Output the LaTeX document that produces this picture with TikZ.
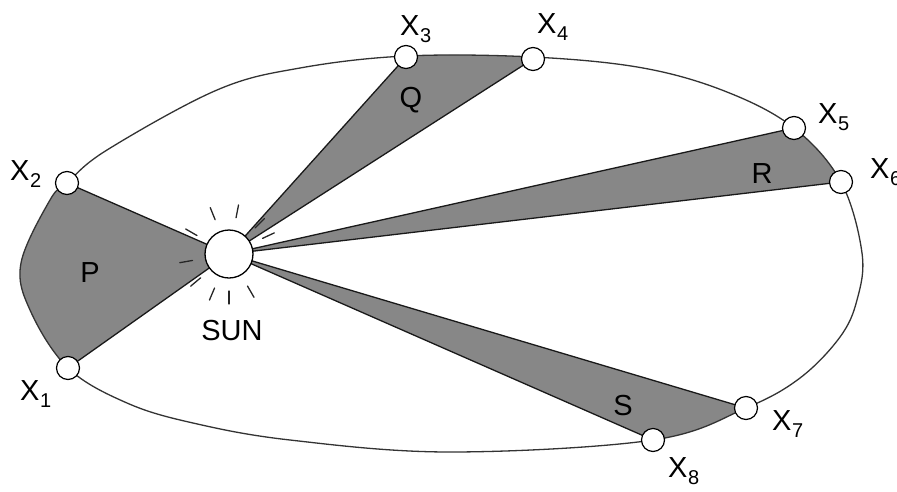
\documentclass[tikz,border=0pt]{standalone}
\usepackage{fontspec}
\setmainfont{Liberation Sans}
\usetikzlibrary{calc}
\newcommand{\xsub}[1]{X\kern0.5pt\raisebox{-7pt}{\fontsize{20}{20}\selectfont #1}}
\begin{document}
\begin{tikzpicture}[x=1pt,y=-1pt,
  orbitline/.style={line width=1.3pt, black!80},
  wedgefill/.style={fill=black!47},
  edgeline/.style={line width=1.3pt, black!90},
  dot/.style={circle, draw, line width=1.2pt, fill=white, minimum size=23pt, inner sep=0pt},
  sunbody/.style={circle, draw, line width=1.3pt, fill=white, minimum size=48pt, inner sep=0pt},
  lbl/.style={font=\fontsize{29}{29}\selectfont, inner sep=0pt},
  ray/.style={line width=1.3pt, black!85, line cap=round}]
\useasboundingbox (0,0) rectangle (897,491);
% positions
\coordinate (sun) at (229,254);
\coordinate (X1) at (68,368);
\coordinate (X2) at (67,183);
\coordinate (X3) at (406,57);
\coordinate (X4) at (533,59);
\coordinate (X5) at (794,128);
\coordinate (X6) at (841,182);
\coordinate (X7) at (746,408);
\coordinate (X8) at (653,440);
% wedges
\begin{scope}
\clip plot[smooth cycle, tension=0.6] coordinates {(21,263) (50,200) (67,183) (107,150) (217,90) (300,68) (406,56) (533,57) (643,68) (727,92) (794,128) (841,182) (862,253) (857,300) (840,337) (800,378) (746,408) (653,440) (450,452) (290,440) (193,423) (127,403) (68,368) (30,310)};
\fill[wedgefill] (sun) -- ($(sun)!2!(X2)$) -- ($(sun)!2!(X1)$) -- cycle;
\fill[wedgefill] (sun) -- ($(sun)!1.5!(X3)$) -- ($(sun)!1.5!(X4)$) -- cycle;
\fill[wedgefill] (sun) -- ($(sun)!1.3!(X5)$) -- ($(sun)!1.3!(X6)$) -- cycle;
\fill[wedgefill] (sun) -- ($(sun)!1.3!(X7)$) -- ($(sun)!1.3!(X8)$) -- cycle;
\end{scope}
% orbit
\draw[orbitline] plot[smooth cycle, tension=0.6] coordinates {(21,263) (50,200) (67,183) (107,150) (217,90) (300,68) (406,56) (533,57) (643,68) (727,92) (794,128) (841,182) (862,253) (857,300) (840,337) (800,378) (746,408) (653,440) (450,452) (290,440) (193,423) (127,403) (68,368) (30,310)};
% wedge edges
\foreach \p in {X1,X2,X3,X4,X5,X6,X7,X8} \draw[edgeline] (sun) -- (\p);
% rays
\foreach \a in {25,45,79,112,150,190,220,247,270,300}
  \draw[ray] ($(sun)+(-\a:37)$) -- ($(sun)+(-\a:50)$);
% sun and planet positions
\node[sunbody] (sunc) at (sun) {};
\foreach \p in {X1,X2,X3,X4,X5,X6,X7,X8} \node[dot] (d\p) at (\p) {};
% labels
\node[lbl, anchor=base west] (t1) at (20,400) {\xsub{1}};
\node[lbl, anchor=base west] (t2) at (10,180) {\xsub{2}};
\node[lbl, anchor=base west] (t3) at (400,35) {\xsub{3}};
\node[lbl, anchor=base west] (t4) at (537,33) {\xsub{4}};
\node[lbl, anchor=base west] (t5) at (818,123) {\xsub{5}};
\node[lbl, anchor=base west] (t6) at (870,178) {\xsub{6}};
\node[lbl, anchor=base west] (t7) at (772,430) {\xsub{7}};
\node[lbl, anchor=base west] (t8) at (668,477) {\xsub{8}};
\node[lbl, anchor=base] (lp) at (90,282) {P};
\node[lbl, anchor=base] (lq) at (411,107) {Q};
\node[lbl, anchor=base] (lr) at (762,183) {R};
\node[lbl, anchor=base] (ls) at (623,415) {S};
\node[lbl, anchor=base] (lsun) at (232,340) {SUN};
\end{tikzpicture}
\end{document}
